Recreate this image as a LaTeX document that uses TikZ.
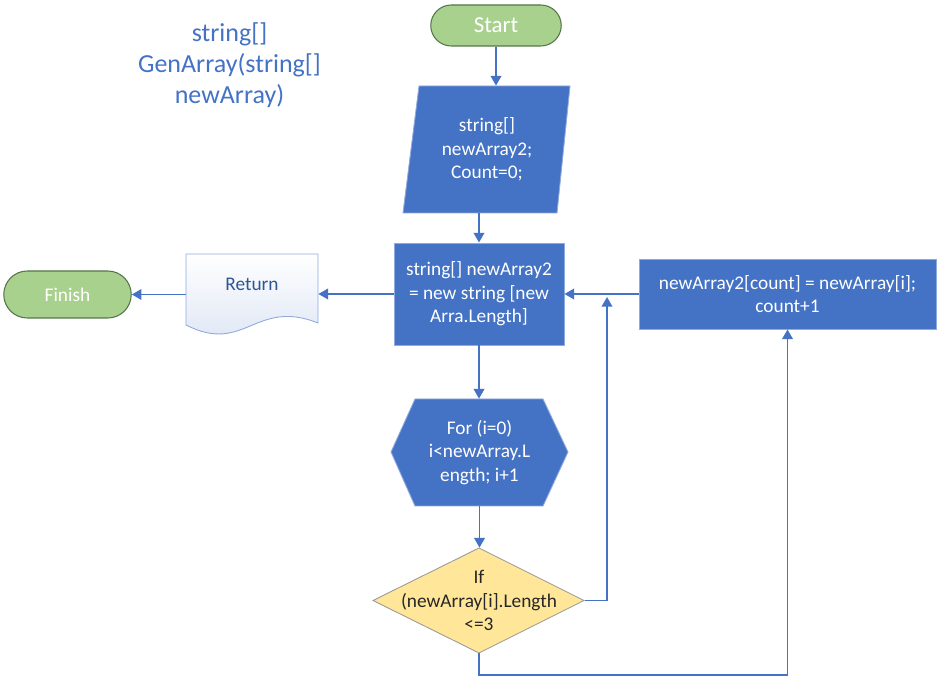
\documentclass[tikz,border=0pt]{standalone}
\usepackage{fontspec}
\setmainfont{Carlito}
\usetikzlibrary{arrows.meta,shapes.misc}

\definecolor{fcblue}{HTML}{4472C4}
\definecolor{fcline}{HTML}{8FAADC}
\definecolor{fcgreen}{HTML}{A9D18E}
\definecolor{fcgreenline}{HTML}{56744A}
\definecolor{fcyellow}{HTML}{FFE699}
\definecolor{fcgray}{HTML}{9A9A9A}
\definecolor{fcdark}{HTML}{2F5597}
\definecolor{fcpale}{HTML}{DAE3F3}

\begin{document}
\begin{tikzpicture}[>={Triangle[length=5.5pt,width=6pt]},
  every node/.style={font=\fontsize{11}{13.3}\selectfont,align=center,inner sep=1pt},
  term/.style={rounded rectangle,draw=fcgreenline,fill=fcgreen,text=white,line width=0.6pt},
  proc/.style={rectangle,draw=fcline,fill=fcblue,text=white,line width=0.5pt},
  flow/.style={->,draw=fcblue,line width=1pt}]
\useasboundingbox (0,0) rectangle (18.74,13.54);

% heading
\node[text=fcblue,font=\fontsize{14.8}{17.6}\selectfont] (head) at (4.59,12.24) {string[]\\GenArray(string[]\\newArray)};

% start / input
\node[term,minimum width=2.68cm,minimum height=0.82cm,font=\fontsize{13}{15}\selectfont] (start) at (9.92,13.03) {Start};
\filldraw[fill=fcblue,draw=fcline,line width=0.5pt] (8.38,11.82) -- (11.40,11.82) -- (11.14,9.28) -- (8.06,9.28) -- cycle;
\node[text=white,minimum height=2.54cm] (init) at (9.74,10.55) {string[]\\newArray2;\\Count=0;};

% processes
\node[proc,minimum width=3.4cm,minimum height=2.04cm] (alloc) at (9.58,7.66) {string[] newArray2\\= new string [new\\Arra.Length]};
\node[proc,minimum width=5.94cm,minimum height=1.4cm] (upd) at (15.75,7.66) {newArray2[count] = newArray[i];\\count+1};

% return document and finish
\path[top color=white,bottom color=fcpale,draw=fcline,line width=0.5pt] (3.72,8.46) -- (6.36,8.46) -- (6.36,7.08) .. controls (5.10,7.58) and (4.90,6.44) .. (3.72,7.04) -- cycle;
\node[text=fcdark,minimum width=2.64cm] (ret) at (5.04,7.86) {Return};
\node[term,minimum width=2.62cm,minimum height=0.94cm] (fin) at (1.35,7.65) {Finish};

% loop
\filldraw[fill=fcblue,draw=fcline,line width=0.5pt] (7.82,4.50) -- (8.30,5.56) -- (10.86,5.56) -- (11.36,4.50) -- (10.86,3.42) -- (8.30,3.42) -- cycle;
\node[text=white,minimum height=2.14cm] (loop) at (9.59,4.49) {For (i=0)\\i<newArray.L\\ength; i+1};

% condition
\filldraw[fill=fcyellow,draw=fcgray,line width=0.5pt] (9.58,2.58) -- (11.68,1.53) -- (9.58,0.48) -- (7.46,1.53) -- cycle;
\node[text=black!85,minimum width=4.22cm,minimum height=2.1cm] (cond) at (9.58,1.53) {If\\(newArray[i].Length\\<=3};

% connectors
\coordinate (join) at (12.14,7.60);
\draw[flow] (start.south) -- (start.south |- init.north);
\draw[flow] (alloc.north |- init.south) -- (alloc.north);
\draw[flow] (alloc.south) -- (alloc.south |- loop.north);
\draw[flow] (loop.south) -- (loop.south |- cond.north);
\draw[flow] (alloc.west) -- (ret.east |- alloc.west);
\draw[flow] (ret.west |- fin.east) -- (fin.east);
\draw[flow] (upd.west) -- (alloc.east);
\draw[flow] (cond.east) -| (join);
\draw[flow] (cond.south) -- ++(0,-0.44) -| (upd.south);
\end{tikzpicture}
\end{document}
